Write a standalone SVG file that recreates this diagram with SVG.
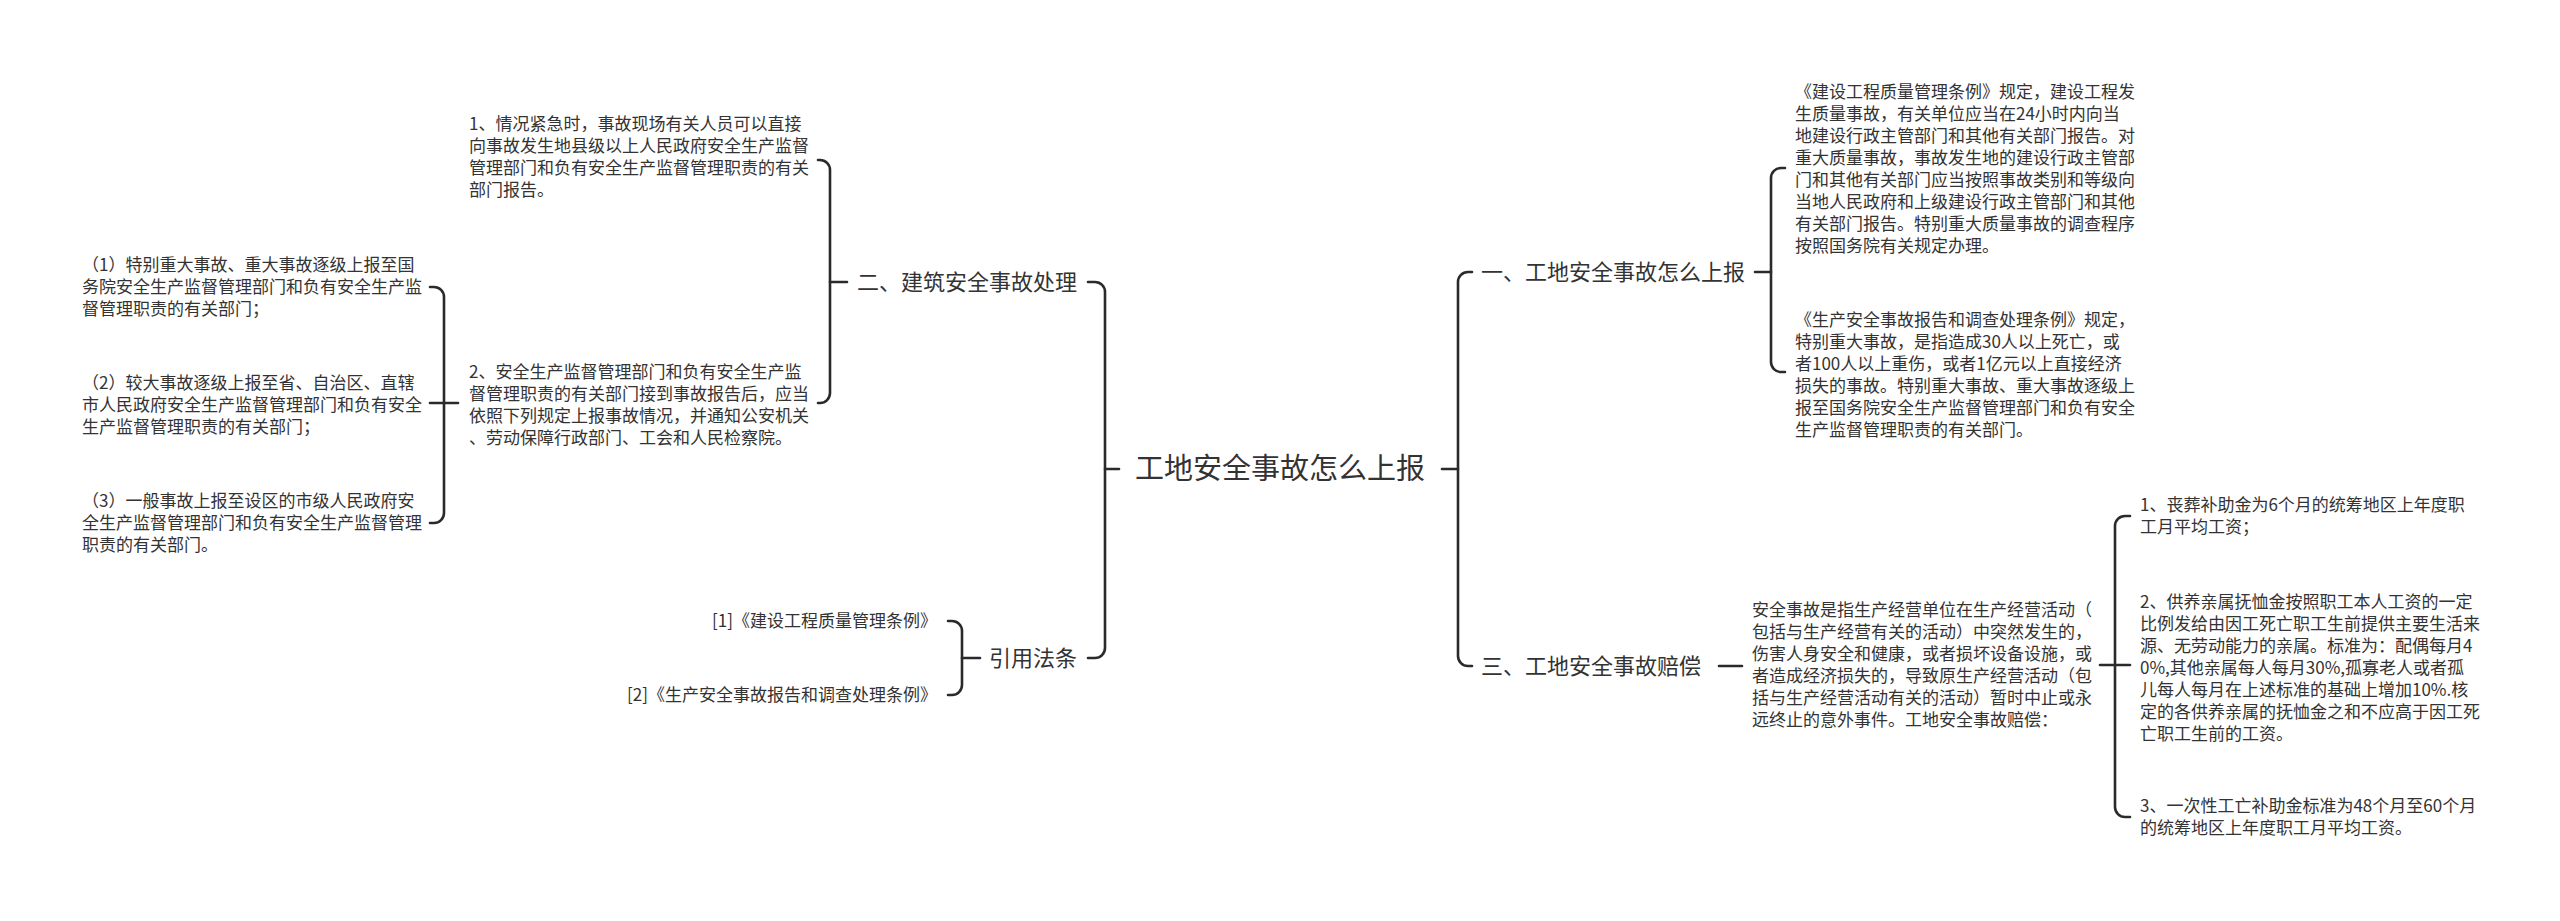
<svg xmlns="http://www.w3.org/2000/svg" width="2560" height="921" viewBox="0 0 2560 921">
<style>
text{font-family:"Noto Sans CJK SC","Noto Sans",sans-serif;fill:#333}
.s{font-size:17px}
.m{font-size:22px}
.r{font-size:29px}
.e{text-anchor:end}
.c{text-anchor:middle}
#connectors path{fill:none;stroke:#2a2a2a;stroke-width:2.6;stroke-linecap:round}
</style>
<rect width="2560" height="921" fill="#fff"/>
<g id="connectors">
<path d="M1119,469 H1105"/>
<path d="M1088,282 H1095 A10,10 0 0 1 1105,292 V648 A10,10 0 0 1 1095,658 H1088"/>
<path d="M830,282 H847"/>
<path d="M818,160 H820 A10,10 0 0 1 830,170 V393 A10,10 0 0 1 820,403 H818"/>
<path d="M430,403 H458"/>
<path d="M430,287 H434 A10,10 0 0 1 444,297 V513 A10,10 0 0 1 434,523 H430"/>
<path d="M962,658 H980"/>
<path d="M948,621 H952 A10,10 0 0 1 962,631 V685 A10,10 0 0 1 952,695 H948"/>
<path d="M1442,469 H1458"/>
<path d="M1472,272 H1468 A10,10 0 0 0 1458,282 V656 A10,10 0 0 0 1468,666 H1472"/>
<path d="M1755,272 H1771"/>
<path d="M1785,168 H1781 A10,10 0 0 0 1771,178 V362 A10,10 0 0 0 1781,372 H1785"/>
<path d="M1719,666 H1742"/>
<path d="M2100,665 H2130"/>
<path d="M2130,516 H2125 A10,10 0 0 0 2115,526 V807 A10,10 0 0 0 2125,817 H2130"/>
</g>
<g id="root"><text class="r c" x="1280" y="479">工地安全事故怎么上报</text></g>
<g id="n-er"><text class="m e" x="1077" y="290">二、建筑安全事故处理</text></g>
<g id="n-yinyong"><text class="m e" x="1077" y="666">引用法条</text></g>
<g id="n-yi"><text class="m" x="1481" y="280">一、工地安全事故怎么上报</text></g>
<g id="n-san"><text class="m" x="1481" y="674">三、工地安全事故赔偿</text></g>
<g id="n-er-1"><text class="s">
<tspan x="469" y="130">1、情况紧急时，事故现场有关人员可以直接</tspan>
<tspan x="469" y="152">向事故发生地县级以上人民政府安全生产监督</tspan>
<tspan x="469" y="174">管理部门和负有安全生产监督管理职责的有关</tspan>
<tspan x="469" y="196">部门报告。</tspan></text></g>
<g id="n-er-2"><text class="s">
<tspan x="469" y="378">2、安全生产监督管理部门和负有安全生产监</tspan>
<tspan x="469" y="400">督管理职责的有关部门接到事故报告后，应当</tspan>
<tspan x="469" y="422">依照下列规定上报事故情况，并通知公安机关</tspan>
<tspan x="469" y="444">、劳动保障行政部门、工会和人民检察院。</tspan></text></g>
<g id="n-er-2-1"><text class="s">
<tspan x="82" y="271">（1）特别重大事故、重大事故逐级上报至国</tspan>
<tspan x="82" y="293">务院安全生产监督管理部门和负有安全生产监</tspan>
<tspan x="82" y="315">督管理职责的有关部门；</tspan></text></g>
<g id="n-er-2-2"><text class="s">
<tspan x="82" y="389">（2）较大事故逐级上报至省、自治区、直辖</tspan>
<tspan x="82" y="411">市人民政府安全生产监督管理部门和负有安全</tspan>
<tspan x="82" y="433">生产监督管理职责的有关部门；</tspan></text></g>
<g id="n-er-2-3"><text class="s">
<tspan x="82" y="507">（3）一般事故上报至设区的市级人民政府安</tspan>
<tspan x="82" y="529">全生产监督管理部门和负有安全生产监督管理</tspan>
<tspan x="82" y="551">职责的有关部门。</tspan></text></g>
<g id="n-ref-1"><text class="s e" x="937" y="627">[1]《建设工程质量管理条例》</text></g>
<g id="n-ref-2"><text class="s e" x="937" y="701">[2]《生产安全事故报告和调查处理条例》</text></g>
<g id="n-yi-1"><text class="s">
<tspan x="1795" y="98">《建设工程质量管理条例》规定，建设工程发</tspan>
<tspan x="1795" y="120">生质量事故，有关单位应当在24小时内向当</tspan>
<tspan x="1795" y="142">地建设行政主管部门和其他有关部门报告。对</tspan>
<tspan x="1795" y="164">重大质量事故，事故发生地的建设行政主管部</tspan>
<tspan x="1795" y="186">门和其他有关部门应当按照事故类别和等级向</tspan>
<tspan x="1795" y="208">当地人民政府和上级建设行政主管部门和其他</tspan>
<tspan x="1795" y="230">有关部门报告。特别重大质量事故的调查程序</tspan>
<tspan x="1795" y="252">按照国务院有关规定办理。</tspan></text></g>
<g id="n-yi-2"><text class="s">
<tspan x="1795" y="326">《生产安全事故报告和调查处理条例》规定，</tspan>
<tspan x="1795" y="348">特别重大事故，是指造成30人以上死亡，或</tspan>
<tspan x="1795" y="370">者100人以上重伤，或者1亿元以上直接经济</tspan>
<tspan x="1795" y="392">损失的事故。特别重大事故、重大事故逐级上</tspan>
<tspan x="1795" y="414">报至国务院安全生产监督管理部门和负有安全</tspan>
<tspan x="1795" y="436">生产监督管理职责的有关部门。</tspan></text></g>
<g id="n-san-1"><text class="s">
<tspan x="1752" y="616">安全事故是指生产经营单位在生产经营活动（</tspan>
<tspan x="1752" y="638">包括与生产经营有关的活动）中突然发生的，</tspan>
<tspan x="1752" y="660">伤害人身安全和健康，或者损坏设备设施，或</tspan>
<tspan x="1752" y="682">者造成经济损失的，导致原生产经营活动（包</tspan>
<tspan x="1752" y="704">括与生产经营活动有关的活动）暂时中止或永</tspan>
<tspan x="1752" y="726">远终止的意外事件。工地安全事故赔偿：</tspan></text></g>
<g id="n-san-1-1"><text class="s">
<tspan x="2140" y="511">1、丧葬补助金为6个月的统筹地区上年度职</tspan>
<tspan x="2140" y="533">工月平均工资；</tspan></text></g>
<g id="n-san-1-2"><text class="s">
<tspan x="2140" y="608">2、供养亲属抚恤金按照职工本人工资的一定</tspan>
<tspan x="2140" y="630">比例发给由因工死亡职工生前提供主要生活来</tspan>
<tspan x="2140" y="652">源、无劳动能力的亲属。标准为：配偶每月4</tspan>
<tspan x="2140" y="674">0%,其他亲属每人每月30%,孤寡老人或者孤</tspan>
<tspan x="2140" y="696">儿每人每月在上述标准的基础上增加10%.核</tspan>
<tspan x="2140" y="718">定的各供养亲属的抚恤金之和不应高于因工死</tspan>
<tspan x="2140" y="740">亡职工生前的工资。</tspan></text></g>
<g id="n-san-1-3"><text class="s">
<tspan x="2140" y="812">3、一次性工亡补助金标准为48个月至60个月</tspan>
<tspan x="2140" y="834">的统筹地区上年度职工月平均工资。</tspan></text></g>
</svg>
